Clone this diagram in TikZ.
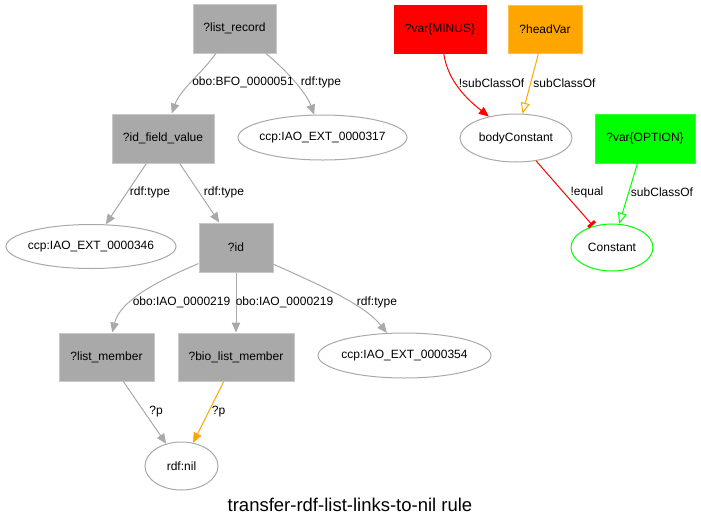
\documentclass[tikz,border=0pt]{standalone}
\usepackage{fontspec}
\setmainfont{Liberation Sans}
\usetikzlibrary{shapes.geometric,arrows.meta}
\definecolor{edgegray}{HTML}{A9A9A9}
\definecolor{boxline}{HTML}{C8C8C8}
\definecolor{varred}{HTML}{FF0000}
\definecolor{varorange}{HTML}{FFA500}
\definecolor{vargreen}{HTML}{00FF00}
\tikzset{
  every node/.style={font=\fontsize{12}{14}\selectfont, inner sep=0pt},
  box/.style={rectangle, draw=boxline, line width=1pt},
  grbox/.style={box, fill=edgegray},
  oval/.style={ellipse, draw=edgegray, line width=1pt, fill=white},
  wideoval/.style={oval, inner xsep=-4pt},
  lbl/.style={anchor=center},
  link/.style={draw=edgegray, line width=1pt, -{Triangle[length=10pt,width=8.5pt]}},
  redlink/.style={draw=varred, line width=1pt, -{Triangle[length=10pt,width=8.5pt]}},
  orangelink/.style={draw=varorange, line width=1pt, -{Triangle[length=10pt,width=8.5pt]}},
  openlink/.style={line width=1pt, -{Triangle[open,length=11pt,width=9pt]}},
  teelink/.style={draw=varred, line width=1pt, -{Rectangle[length=3pt,width=9pt,sep=1pt]}},
}
\begin{document}
\begin{tikzpicture}[x=1pt,y=-1pt]
\useasboundingbox (0,0) rectangle (701,528);

% nodes of the rule graph
\node[grbox, minimum width=83pt, minimum height=49pt] (lr) at (234.5,28.5) {?list\_record};
\node[grbox, minimum width=102pt, minimum height=49pt] (idfv) at (163,138.5) {?id\_field\_value};
\node[wideoval, minimum width=169pt, minimum height=45pt] (c317) at (322.5,137.5) {ccp:IAO\_EXT\_0000317};
\node[wideoval, minimum width=170pt, minimum height=44pt] (c346) at (91,246.5) {ccp:IAO\_EXT\_0000346};
\node[grbox, minimum width=74pt, minimum height=49pt] (id) at (236,247.5) {?id};
\node[grbox, minimum width=95pt, minimum height=48pt] (lm) at (106.5,357) {?list\_member};
\node[grbox, minimum width=116pt, minimum height=48pt] (blm) at (236,357) {?bio\_list\_member};
\node[wideoval, minimum width=173pt, minimum height=45pt] (c354) at (404.5,355.5) {ccp:IAO\_EXT\_0000354};
\node[oval, minimum width=73pt, minimum height=48pt] (nil) at (181.5,466) {rdf:nil};

\node[box, draw=varred, fill=varred, minimum width=92pt, minimum height=48pt] (minus) at (440,29) {?var\{MINUS\}};
\node[box, draw=varorange!70, fill=varorange, minimum width=74pt, minimum height=48pt] (head) at (545,29) {?headVar};
\node[oval, minimum width=112pt, minimum height=48pt] (body) at (516,138) {bodyConstant};
\node[box, draw=vargreen!80, fill=vargreen, minimum width=100pt, minimum height=49pt] (opt) at (645,138.5) {?var\{OPTION\}};
\node[oval, draw=vargreen, minimum width=82pt, minimum height=47pt] (const) at (612,247.5) {Constant};

% connectors
\draw[link] (lr) .. controls (200,75) and (180,90) .. (idfv);
\draw[link] (lr) .. controls (284,68) and (306,92) .. (c317);
\draw[link] (idfv) -- (c346);
\draw[link] (idfv) -- (id);
\draw[link] (id) .. controls (160,280) and (120,300) .. (lm);
\draw[link] (id) -- (blm);
\draw[link] (id) .. controls (320,285) and (365,305) .. (c354);
\draw[link] (lm) -- (nil);
\draw[orangelink] (blm) -- (nil);

\draw[redlink] (minus) .. controls (448,82) and (468,100) .. (body);
\draw[openlink, draw=varorange] (head) -- (body);
\draw[teelink] (body) -- (const);
\draw[openlink, draw=vargreen] (opt) -- (const);

% edge labels
\node[lbl] (l1) at (243,82) {obo:BFO\_0000051};
\node[lbl] (l2) at (321,82) {rdf:type};
\node[lbl] (l3) at (150,192) {rdf:type};
\node[lbl] (l4) at (224,192) {rdf:type};
\node[lbl] (l5) at (181.5,302) {obo:IAO\_0000219};
\node[lbl] (l6) at (284.5,302) {obo:IAO\_0000219};
\node[lbl] (l7) at (377,302) {rdf:type};
\node[lbl] (l8) at (156,412) {?p};
\node[lbl] (l9) at (218.5,412) {?p};
\node[lbl] (l10) at (491.5,83) {!subClassOf};
\node[lbl] (l11) at (564.5,83) {subClassOf};
\node[lbl] (l12) at (587,192) {!equal};
\node[lbl] (l13) at (662,192) {subClassOf};

% title
\node[font=\fontsize{18.5}{22}\selectfont] (title) at (350,505) {transfer-rdf-list-links-to-nil rule};
\end{tikzpicture}
\end{document}
